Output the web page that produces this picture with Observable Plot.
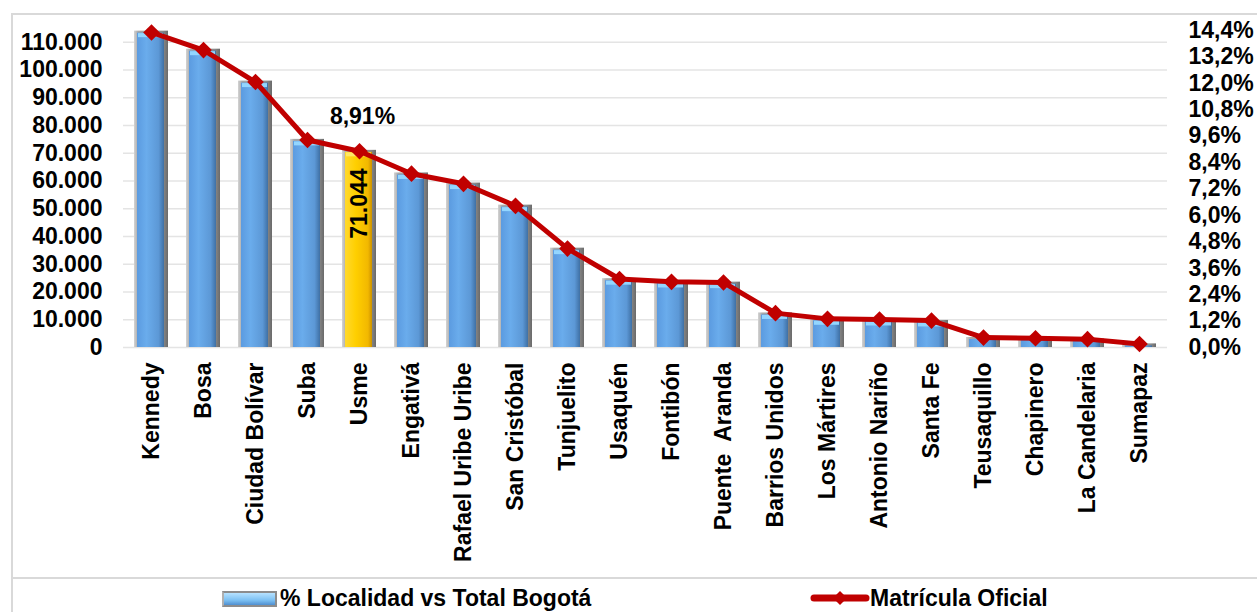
<!DOCTYPE html>
<html><head><meta charset="utf-8">
<script src="https://cdn.jsdelivr.net/npm/d3@7"></script>
<script src="https://cdn.jsdelivr.net/npm/@observablehq/plot@0.6"></script>
<style>
body{margin:0;background:#fff;font-family:"Liberation Sans",Arial,sans-serif;}
#wrap{position:relative;width:1257px;height:612px;overflow:hidden;background:#fff;}
#chart{position:absolute;left:0;top:0;}
#frame{position:absolute;left:11px;top:13px;width:1300px;height:700px;border-left:2px solid #d9d9d9;border-top:2px solid #d9d9d9;pointer-events:none;}
#sep{position:absolute;left:12px;top:577px;width:1260px;border-top:2px solid #d9d9d9;}
svg text{white-space:pre;}
.leg{position:absolute;font-weight:bold;font-size:23px;line-height:23px;color:#000;white-space:nowrap;}
.sw1{position:absolute;left:222px;top:591px;width:51px;height:12px;border:2px solid #8c8c8c;border-left-color:#b0b0b0;background:linear-gradient(#b6e2ff,#7cc0f2 60%,#4f8fd0);}
</style></head>
<body>
<div id="wrap">
  <div id="chart"></div>
  <div id="frame"></div>
  <div id="sep"></div>
  <div class="sw1"></div>
  <div class="leg" style="left:280px;top:587px;">% Localidad vs Total Bogotá</div>
  <svg style="position:absolute;left:810px;top:588px;" width="60" height="20">
    <line x1="4" y1="10" x2="56" y2="10" stroke="#c00000" stroke-width="7" stroke-linecap="round"/>
    <path d="M30 3 L37 10 L30 17 L23 10 Z" fill="#c00000"/>
  </svg>
  <div class="leg" style="left:870px;top:587px;">Matrícula Oficial</div>
</div>
<script>
// ---- data ----
const localidades = ["Kennedy","Bosa","Ciudad Bolívar","Suba","Usme","Engativá","Rafael Uribe Uribe","San Cristóbal","Tunjuelito","Usaquén","Fontibón","Puente  Aranda","Barrios Unidos","Los Mártires","Antonio Nariño","Santa Fe","Teusaquillo","Chapinero","La Candelaria","Sumapaz"];
const matricula = [114000,107500,96000,75000,71044,62900,59250,51300,35800,24800,23800,23550,12450,10350,10100,9750,3600,3350,3050,1300];
const porcentaje = [14.30,13.50,12.05,9.42,8.91,7.89,7.43,6.43,4.49,3.11,2.98,2.95,1.56,1.30,1.27,1.22,0.45,0.42,0.38,0.16];
const leftTicks = [0,10000,20000,30000,40000,50000,60000,70000,80000,90000,100000,110000];
const rightTicks = [0,1.2,2.4,3.6,4.8,6.0,7.2,8.4,9.6,10.8,12.0,13.2,14.4];
const highlight = "Usme";
const highlightBarLabel = "71.044";
const highlightPctLabel = "8,91%";

// ---- scales ----
const leftMax = 120000;
const rightMax = 15.115;
const k = leftMax / rightMax;

const rows = localidades.map((name, i) => ({name, matricula: matricula[i], pct: porcentaje[i]}));
const fmtThousands = d => String(d).replace(/\B(?=(\d{3})+(?!\d))/g, ".");
const fmtPct = d => (d / k).toFixed(1).replace(".", ",") + "%";

const plot = Plot.plot({
  width: 1257,
  height: 578,
  marginTop: 14,
  marginBottom: 231,
  marginLeft: 123,
  marginRight: 90,
  style: {fontFamily: "'Liberation Sans', Arial, sans-serif", fontSize: "23px", fontWeight: "bold", color: "#000", background: "transparent"},
  x: {domain: localidades, paddingInner: 0.35, paddingOuter: 0.175, label: null},
  y: {domain: [0, leftMax], label: null},
  marks: [
    Plot.ruleY(leftTicks, {stroke: "#e4e4e4", strokeWidth: 1.5}),
    Plot.barY(rows, {x: "name", y: "matricula", fill: "url(#frameGrad)"}),
    Plot.barY(rows.filter(d => d.name !== highlight), {x: "name", y: "matricula", fill: "url(#faceGrad)", insetLeft: 3, insetRight: 4, insetTop: 2}),
    Plot.barY(rows.filter(d => d.name === highlight), {x: "name", y: "matricula", fill: "url(#goldGrad)", insetLeft: 3, insetRight: 4, insetTop: 2}),
    Plot.tickY(rows.filter(d => d.matricula > 5000 && d.name !== highlight), {x: "name", y: "matricula", stroke: "#93d6ff", strokeWidth: 4, insetLeft: 4, insetRight: 5, dy: 4}),
    Plot.tickY(rows.filter(d => d.name === highlight), {x: "name", y: "matricula", stroke: "#ffe866", strokeWidth: 4, insetLeft: 4, insetRight: 5, dy: 4}),
    Plot.line(rows, {x: "name", y: d => d.pct * k, stroke: "#c00000", strokeWidth: 5, strokeLinejoin: "round"}),
    Plot.dot(rows, {x: "name", y: d => d.pct * k, symbol: "diamond2", r: 7.5, fill: "#c00000", stroke: "none"}),
    Plot.text(rows.filter(d => d.name === highlight), {x: "name", y: d => d.pct * k, text: () => highlightPctLabel, dy: -35, dx: 3, fill: "#000"}),
    Plot.text(rows.filter(d => d.name === highlight), {x: "name", y: "matricula", text: () => highlightBarLabel, rotate: -90, textAnchor: "end", dy: 18, dx: 0, fill: "#000"}),
    Plot.axisY({anchor: "left", ticks: leftTicks, tickFormat: fmtThousands, tickSize: 0, tickPadding: 21, label: null}),
    Plot.axisY({anchor: "right", ticks: rightTicks.map(p => p * k), tickFormat: fmtPct, tickSize: 0, tickPadding: 21, label: null}),
    Plot.axisX({tickRotate: -90, tickSize: 0, tickPadding: 15, label: null})
  ]
});

// gradient definitions
const svg = d3.select(plot);
const defs = svg.insert("defs", ":first-child");
function grad(id, stops) {
  const g = defs.append("linearGradient").attr("id", id).attr("x1", "0").attr("x2", "1").attr("y1", "0").attr("y2", "0");
  stops.forEach(([o, c]) => g.append("stop").attr("offset", o).attr("stop-color", c));
}
grad("frameGrad", [["0", "#d4d4d4"], ["0.12", "#a8a8a8"], ["0.85", "#8a8a8a"], ["1", "#6a6a6a"]]);
grad("faceGrad", [["0", "#5b9be0"], ["0.35", "#6aacec"], ["0.8", "#5c98d6"], ["1", "#3f70a4"]]);
grad("goldGrad", [["0", "#ffd92e"], ["0.4", "#ffcf00"], ["0.85", "#f2b800"], ["1", "#cc9200"]]);

document.getElementById("chart").appendChild(plot);
</script>
</body></html>
